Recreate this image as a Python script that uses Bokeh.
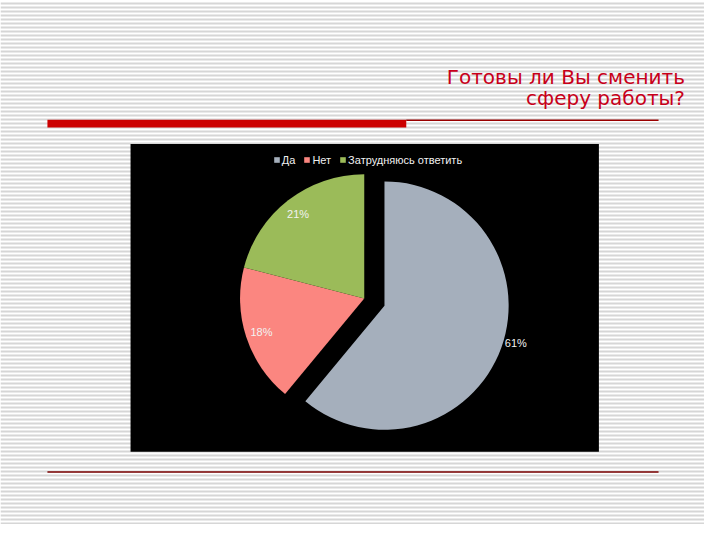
import numpy as np
from bokeh.plotting import figure
from bokeh.models import ColumnDataSource, Range1d, Legend, LegendItem
from bokeh.core.properties import value
from bokeh.embed import file_html
from bokeh.resources import INLINE

# ---- data ----
categories = ["Да", "Нет", "Затрудняюсь ответить"]
shares = [61, 18, 21]
labels = ["61%", "18%", "21%"]
colors = ["#a5afbc", "#fb8680", "#9bbb59"]
title_lines = ["Готовы ли Вы сменить", "сферу работы?"]

# ---- layout: reference slide coordinates (720x540, y downward) mapped onto the figure ----
W, H = 704, 524
SX, SY = W / 720, H / 540
def Y(py):
    return 540 - py

p = figure(width=W, height=H, output_backend="svg", toolbar_location=None,
           x_range=Range1d(0, 720), y_range=Range1d(0, 540),
           min_border=0, outline_line_color=None)
p.axis.visible = False
p.grid.visible = False
p.background_fill_color = "white"
p.border_fill_color = "white"

# background stripes (every 4 screen pixels)
ys = np.arange(0, 540, 4 / SY) + 1 / SY
p.segment(x0=0, x1=720, y0=ys, y1=ys, line_color="#d6d6d6", line_width=2)

# title
p.text(x=[700, 700], y=[Y(79), Y(100)], text=title_lines, text_align="right",
       text_baseline="alphabetic", text_color="#c8001a",
       text_font=value("DejaVu Sans"), text_font_size="20px")

# red decorations
p.quad(left=48, right=415, top=Y(123), bottom=Y(131), fill_color="#cc0000", line_color=None)
p.segment(x0=415, x1=673, y0=Y(123.5), y1=Y(123.5), line_color="#9a0000", line_width=1.5)
p.segment(x0=48, x1=673, y0=Y(486), y1=Y(486), line_color="#7a0000", line_width=1.5)

# chart area
p.quad(left=133, right=612, top=Y(148), bottom=Y(465), fill_color="black", line_color=None)

# ---- pie ----
cx, cy, r = 372, Y(307), 127
explode = [22, 0, 0]
frac = np.array(shares, dtype=float) / sum(shares)
c1 = np.cumsum(frac)
c0 = c1 - frac
start = np.pi / 2 - 2 * np.pi * c1
end = np.pi / 2 - 2 * np.pi * c0
mid = (start + end) / 2
xs = cx + np.array(explode) * np.cos(mid)
yc = cy + np.array(explode) * np.sin(mid)

src = ColumnDataSource(dict(x=xs, y=yc, start=start, end=end, color=colors, cat=categories))
wr = p.wedge(x="x", y="y", radius=r, radius_units="data", start_angle="start", end_angle="end",
             fill_color="color", line_color=None, source=src)

dist = np.array([1.03, 0.87, 0.87]) * r
lx = xs + dist * np.cos(mid)
ly = yc + dist * np.sin(mid)
lsrc = ColumnDataSource(dict(x=lx, y=ly, t=labels,
                             align=["left", "center", "center"],
                             base=["bottom", "middle", "middle"]))
p.text(x="x", y="y", text="t", text_align="align", text_baseline="base",
       text_color="#f2f2f2", text_font=value("Liberation Sans"), text_font_size="11px",
       source=lsrc)

legend = Legend(items=[LegendItem(label=c, renderers=[wr], index=i) for i, c in enumerate(categories)],
                orientation="horizontal", location=(279 * SX, (540 - 171) * SY),
                glyph_width=7, glyph_height=7, label_width=0, label_height=12,
                label_standoff=2, spacing=8, padding=0, margin=0,
                label_text_font="Liberation Sans", label_text_font_size="11px",
                label_text_color="#f0f0f0", background_fill_color="black",
                background_fill_alpha=1, border_line_color=None)
p.add_layout(legend, "center")

open("out.html", "w").write(file_html(p, INLINE))
